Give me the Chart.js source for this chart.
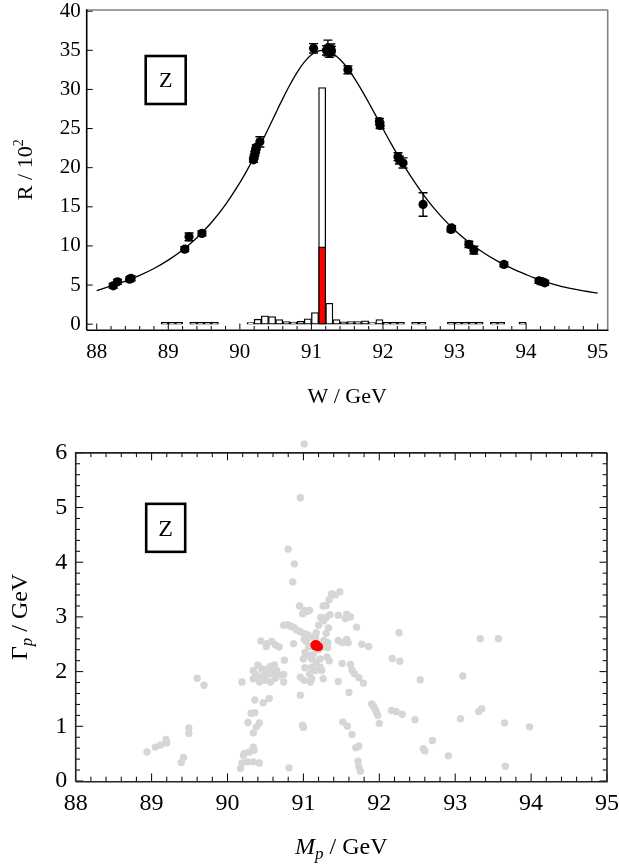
<!DOCTYPE html>
<html><head><meta charset="utf-8">
<script src="https://cdn.jsdelivr.net/npm/chart.js@4.4.1/dist/chart.umd.min.js"></script>
<style>
html,body{margin:0;padding:0;background:#fff;}
#wrap{position:relative;width:619px;height:867px;overflow:hidden;}
canvas{position:absolute;left:0;}
</style></head><body>
<div id="wrap">
<canvas id="c1" width="619" height="430" style="top:0;width:619px;height:430px"></canvas>
<canvas id="c2" width="619" height="437" style="top:430px;width:619px;height:437px"></canvas>
</div>
<script>
const FONT = "'Liberation Serif','Times New Roman',serif";

// ---------- Top panel: R vs W ----------
const topXTicks = [88, 89, 90, 91, 92, 93, 94, 95];
const topYTicks = [0, 5, 10, 15, 20, 25, 30, 35, 40];

// fitted line shape
const curveW = [88.0,88.2,88.4,88.6,88.8,89.0,89.2,89.4,89.6,89.8,90.0,90.1,90.2,90.3,90.4,90.5,90.6,90.7,90.8,90.9,91.0,91.1,91.15,91.2,91.3,91.4,91.5,91.6,91.7,91.8,91.9,92.0,92.1,92.2,92.3,92.4,92.6,92.8,93.0,93.2,93.4,93.6,93.8,94.0,94.2,94.4,94.6,94.8,95.0];
const curveR = [4.28,4.88,5.50,6.24,7.12,8.19,9.48,11.05,12.96,15.28,18.08,19.66,21.36,23.16,25.03,26.94,28.82,30.60,32.19,33.50,34.43,34.92,35.0,34.95,34.57,33.82,32.77,31.45,29.95,28.33,26.65,24.96,23.29,21.69,20.16,18.72,16.12,13.91,12.04,10.48,9.16,8.06,7.13,6.34,5.62,5.06,4.60,4.25,3.98];

// measured points with errors
const ptW   = [88.23,88.29,88.46,88.48,89.23,89.29,89.47,90.19,90.20,90.21,90.22,90.23,90.28,91.03,91.21,91.23,91.25,91.27,91.28,91.51,91.95,91.96,92.21,92.23,92.28,92.56,92.95,92.96,93.20,93.27,93.69,94.18,94.22,94.26];
const ptR   = [4.90,5.41,5.75,5.85,9.59,11.16,11.6,21.0,21.4,21.8,22.2,22.6,23.3,35.25,35.0,35.3,34.7,35.2,34.9,32.5,25.9,25.4,21.4,20.97,20.6,15.3,12.1,12.3,10.2,9.46,7.63,5.54,5.45,5.28];
const ptErr = [0.3,0.3,0.3,0.3,0.3,0.5,0.3,0.3,0.3,0.3,0.3,0.3,0.65,0.6,0.6,1.0,0.6,0.6,0.6,0.5,0.4,0.4,0.5,0.5,0.65,1.5,0.3,0.3,0.4,0.5,0.3,0.3,0.3,0.3];

// histogram (bin centres, 0.1 GeV bins)
const histW = [88.95,89.05,89.15,89.35,89.45,89.55,89.65,90.15,90.25,90.35,90.45,90.55,90.65,90.75,90.85,90.95,91.05,91.15,91.25,91.35,91.45,91.55,91.65,91.75,91.85,91.95,92.05,92.15,92.25,92.45,92.55,92.95,93.05,93.15,93.25,93.35,93.55,93.65,93.95];
const histH = [0.24,0.24,0.24,0.24,0.24,0.24,0.24,0.21,0.64,1.06,0.98,0.60,0.34,0.26,0.38,0.68,1.49,30.25,2.68,0.60,0.30,0.34,0.34,0.43,0.21,0.60,0.24,0.24,0.24,0.24,0.24,0.24,0.24,0.24,0.24,0.24,0.24,0.24,0.24];
const redBarW = [91.15];
const redBarH = [9.9];

// ---------- Bottom panel: Gamma_p vs M_p ----------
const botXTicks = [88, 89, 90, 91, 92, 93, 94, 95];
const botYTicks = [0, 1, 2, 3, 4, 5, 6];
const grayM = [88.94,89.05,89.12,89.19,89.20,89.39,89.42,89.49,89.49,89.60,89.69,
90.17,90.19,90.21,90.23,90.26,90.29,90.34,90.35,90.34,90.42,90.27,90.42,90.38,90.34,90.31,90.36,90.36,90.47,90.55,
90.19,90.34,90.40,90.34,90.40,90.44,90.48,90.52,90.57,90.62,90.49,90.55,90.60,90.65,90.42,90.50,90.57,90.68,90.74,90.74,90.37,90.45,90.63,90.75,
90.51,90.44,90.52,90.58,90.63,90.68,90.87,90.74,90.79,90.83,90.87,90.91,90.96,91.01,91.06,91.12,91.16,90.95,91.01,91.08,90.99,91.05,90.86,90.88,90.80,90.96,91.01,
91.01,91.04,91.02,91.07,91.13,91.00,91.11,91.17,91.22,91.31,91.34,91.02,91.11,91.16,91.08,91.22,91.24,90.96,91.01,91.11,91.09,91.26,91.20,91.25,91.07,91.32,91.32,
91.17,91.20,91.23,91.27,91.30,91.35,91.26,91.30,91.34,91.37,91.42,91.48,91.27,91.30,91.33,
91.46,91.55,91.57,91.62,91.70,91.51,91.57,91.59,91.77,91.86,91.46,
91.51,91.62,91.64,91.67,91.73,91.79,91.46,91.60,
91.90,91.92,91.94,91.96,91.98,92.00,92.16,92.22,92.30,92.47,92.54,92.17,92.27,92.26,
91.52,91.58,91.64,91.69,91.73,91.72,91.73,91.75,90.99,91.00,90.96,90.81,
92.58,92.60,92.70,92.91,93.07,93.31,93.35,93.10,93.33,93.57,93.65,93.98,93.66];
const grayG = [0.53,0.62,0.66,0.76,0.70,0.34,0.43,0.97,0.87,1.88,1.75,
0.23,0.33,0.47,0.51,0.35,0.53,0.62,0.56,0.35,0.33,1.07,1.06,0.99,0.88,1.24,1.25,1.48,1.43,1.51,
1.81,2.02,2.12,1.87,1.87,1.90,1.99,2.05,2.10,2.12,1.93,1.96,1.99,2.02,1.81,1.84,1.81,1.93,1.81,1.95,1.95,2.05,1.88,2.21,
2.46,2.56,2.51,2.55,2.49,2.45,2.51,2.85,2.86,2.83,2.81,2.76,2.73,2.70,2.67,2.63,2.61,3.20,3.12,3.12,3.06,3.10,3.64,3.97,4.24,5.18,6.16,
2.59,2.55,2.35,2.29,2.32,2.23,2.23,2.17,2.23,2.27,2.20,2.07,2.08,2.02,1.96,2.08,2.02,1.90,1.84,1.87,1.81,1.87,2.40,2.45,2.45,2.53,2.44,
2.71,2.85,2.99,2.93,2.99,3.04,3.20,3.21,3.32,3.42,3.40,3.46,2.57,2.70,2.80,
3.03,2.97,3.05,3.00,2.81,2.53,2.59,2.53,2.50,2.46,2.57,
2.15,2.13,2.03,1.96,1.89,1.79,1.82,1.62,
1.41,1.37,1.32,1.26,1.20,1.05,1.29,1.27,1.22,1.12,1.85,2.24,2.19,2.71,
1.08,1.00,0.85,0.61,0.64,0.36,0.26,0.18,1.02,0.98,1.57,0.24,
0.59,0.55,0.74,0.46,1.14,1.27,1.32,1.92,2.60,2.60,1.06,0.99,0.27];
const redM = [91.14,91.16,91.18,91.20,91.17,91.19,91.15,91.21];
const redG = [2.49,2.51,2.50,2.47,2.45,2.44,2.46,2.45];

// ---------- helpers ----------
function drawRich(ctx, segs, cx, cy, rot) {
  ctx.save();
  ctx.translate(cx, cy);
  if (rot) ctx.rotate(rot);
  ctx.textBaseline = 'alphabetic';
  ctx.textAlign = 'left';
  ctx.fillStyle = '#000';
  let total = 0;
  for (const s of segs) {
    ctx.font = (s.style || 'normal') + ' ' + s.size + 'px ' + FONT;
    s.w = ctx.measureText(s.t).width; total += s.w;
  }
  let x = -total / 2;
  const base = segs[0].size * 0.33;
  for (const s of segs) {
    ctx.font = (s.style || 'normal') + ' ' + s.size + 'px ' + FONT;
    ctx.fillText(s.t, x, base + (s.dy || 0));
    x += s.w;
  }
  ctx.restore();
}

const decorPlugin = {
  id: 'decor',
  afterDatasetsDraw(chart, args, o) {
    const {ctx, chartArea: ca, scales: {x, y}} = chart;
    const a = {left: ca.left, right: ca.right, bottom: ca.bottom,
               top: o.frameTop != null ? y.getPixelForValue(o.frameTop) : ca.top};
    ctx.save();
    // error bars
    if (o.err) {
      ctx.strokeStyle = '#000'; ctx.lineWidth = 1.4;
      o.err.xs.forEach((xv, i) => {
        const px = x.getPixelForValue(xv);
        const y1 = y.getPixelForValue(o.err.ys[i] - o.err.es[i]);
        const y2 = y.getPixelForValue(o.err.ys[i] + o.err.es[i]);
        ctx.beginPath();
        ctx.moveTo(px, y1); ctx.lineTo(px, y2);
        ctx.moveTo(px - 4.5, y1); ctx.lineTo(px + 4.5, y1);
        ctx.moveTo(px - 4.5, y2); ctx.lineTo(px + 4.5, y2);
        ctx.stroke();
      });
    }
    // ticks
    ctx.strokeStyle = '#000'; ctx.lineWidth = 1;
    const seg = (x0, y0, x1, y1) => { ctx.beginPath(); ctx.moveTo(x0, y0); ctx.lineTo(x1, y1); ctx.stroke(); };
    const xm = o.xMajor, ym = o.yMajor;
    for (const v of xm) {
      const p = x.getPixelForValue(v);
      seg(p, a.bottom, p, a.bottom - o.maj);
      if (o.all) seg(p, a.top, p, a.top + o.maj);
    }
    for (const v of ym) {
      const p = y.getPixelForValue(v);
      seg(a.left, p, a.left + o.maj, p);
      if (o.all) seg(a.right, p, a.right - o.maj, p);
    }
    if (o.xMinor) {
      const n = Math.round((xm[xm.length - 1] - xm[0]) / o.xMinor);
      for (let k = 0; k <= n; k++) {
        if (k % Math.round(1 / o.xMinor) === 0) continue;
        const p = x.getPixelForValue(xm[0] + k * o.xMinor);
        seg(p, a.bottom, p, a.bottom - o.min);
        if (o.all) seg(p, a.top, p, a.top + o.min);
      }
    }
    if (o.yMinor) {
      const n = Math.round((ym[ym.length - 1] - ym[0]) / o.yMinor);
      for (let k = 0; k <= n; k++) {
        if (k % Math.round(1 / o.yMinor) === 0) continue;
        const p = y.getPixelForValue(ym[0] + k * o.yMinor);
        seg(a.left, p, a.left + o.min, p);
        if (o.all) seg(a.right, p, a.right - o.min, p);
      }
    }
    // frame
    ctx.lineWidth = 1.6;
    ctx.strokeStyle = o.topRightColor;
    seg(a.left, a.top, a.right, a.top);
    seg(a.right, a.top, a.right, a.bottom);
    ctx.strokeStyle = o.frameColor;
    seg(a.left, a.bottom + 0.8, a.right + 0.8, a.bottom + 0.8);
    seg(a.left, a.top - 0.8, a.left, a.bottom + 0.8);
    // Z box
    const b = o.box;
    ctx.lineWidth = 2.6; ctx.strokeStyle = '#000';
    ctx.strokeRect(a.left + b.dx, a.top + b.dy, b.w, b.h);
    drawRich(ctx, [{t: 'Z', size: b.fs}], a.left + b.dx + b.w / 2, a.top + b.dy + b.h / 2);
    // axis titles
    const cxm = (a.left + a.right) / 2, cym = (a.top + a.bottom) / 2;
    drawRich(ctx, o.xTitle, cxm, o.xTitleY);
    drawRich(ctx, o.yTitle, o.yTitleX, cym, -Math.PI / 2);
    ctx.restore();
  }
};

function noPad(s) { s.paddingTop = 0; s.paddingBottom = 0; s.paddingLeft = 0; s.paddingRight = 0; }
function mkScaleX(min, max, ticksArr, size, pad, h) {
  return {
    type: 'linear', min, max, offset: false,
    grid: {display: false, drawTicks: false}, border: {display: false},
    afterBuildTicks: s => { s.ticks = ticksArr.map(v => ({value: v})); },
    ticks: {font: {family: FONT, size}, color: '#000', padding: pad, maxRotation: 0, autoSkip: false, callback: v => String(v)},
    afterFit: s => { s.height = h; noPad(s); }
  };
}
function mkScaleY(min, max, ticksArr, size, pad, w) {
  return {
    type: 'linear', min, max,
    grid: {display: false, drawTicks: false}, border: {display: false},
    afterBuildTicks: s => { s.ticks = ticksArr.map(v => ({value: v})); },
    ticks: {font: {family: FONT, size}, color: '#000', padding: pad, autoSkip: false, callback: v => String(v)},
    afterFit: s => { s.width = w; noPad(s); }
  };
}

// ---------- Top chart ----------
new Chart(document.getElementById('c1'), {
  type: 'bar',
  data: {
    datasets: [
      {type: 'scatter', data: ptW.map((w, i) => ({x: w, y: ptR[i]})), backgroundColor: '#000', borderWidth: 0, pointRadius: 4.6, pointHoverRadius: 4.6, order: 0},
      {type: 'bar', data: redBarW.map((w, i) => ({x: w, y: redBarH[i]})), backgroundColor: '#ff0000', borderColor: '#000', borderWidth: 1.3, borderSkipped: false, grouped: false, barPercentage: 1, categoryPercentage: 1, order: 1},
      {type: 'bar', data: histW.map((w, i) => ({x: w, y: histH[i]})), backgroundColor: '#ffffff', borderColor: '#000', borderWidth: 1.3, borderSkipped: false, grouped: false, barPercentage: 1, categoryPercentage: 1, order: 2},
      {type: 'line', data: curveW.map((w, i) => ({x: w, y: curveR[i]})), borderColor: '#000', borderWidth: 1.3, pointRadius: 0, cubicInterpolationMode: 'monotone', fill: false, order: 3}
    ]
  },
  options: {
    responsive: false, animation: false, events: [],
    layout: {padding: {top: 10, right: 11.3, left: 0, bottom: 0}},
    plugins: {
      legend: {display: false}, tooltip: {enabled: false},
      decor: {
        err: {xs: ptW, ys: ptR, es: ptErr}, frameTop: null,
        xMajor: topXTicks, yMajor: topYTicks, xMinor: 0.2, yMinor: null,
        maj: 6, min: 3.5, all: false,
        topRightColor: '#808080', frameColor: '#000',
        box: {dx: 59, dy: 46, w: 40, h: 48, fs: 22},
        xTitle: [{t: 'W / GeV', size: 22}], xTitleY: 396,
        yTitle: [{t: 'R / 10', size: 22}, {t: '2', size: 14, dy: -9}], yTitleX: 25
      }
    },
    scales: {
      x: mkScaleX(87.86, 95.14, topXTicks, 21, 10, 100.5),
      y: mkScaleY(-0.68, 40.15, topYTicks, 21, 6, 86.7)
    }
  },
  plugins: [decorPlugin]
});

// ---------- Bottom chart ----------
new Chart(document.getElementById('c2'), {
  type: 'scatter',
  data: {
    datasets: [
      {data: redM.map((m, i) => ({x: m, y: redG[i]})), backgroundColor: '#ff0000', borderWidth: 0, pointRadius: 3.7, pointHoverRadius: 3.7, clip: false, order: 0},
      {data: grayM.map((m, i) => ({x: m, y: grayG[i]})), backgroundColor: 'rgb(214,214,214)', borderWidth: 0, pointRadius: 3.7, pointHoverRadius: 3.7, clip: false, order: 1}
    ]
  },
  options: {
    responsive: false, animation: false, events: [],
    layout: {padding: {top: 1.75, right: 12, left: 0, bottom: 0}},
    plugins: {
      legend: {display: false}, tooltip: {enabled: false},
      decor: {
        err: null, frameTop: 6,
        xMajor: botXTicks, yMajor: botYTicks, xMinor: 0.2, yMinor: 0.2,
        maj: 7.5, min: 4.3, all: true,
        topRightColor: '#222', frameColor: '#222',
        box: {dx: 70.5, dy: 51, w: 39, h: 48, fs: 24},
        xTitle: [{t: 'M', size: 24, style: 'italic'}, {t: 'p', size: 17, style: 'italic', dy: 5}, {t: ' / GeV', size: 24}], xTitleY: 416.5,
        yTitle: [{t: 'Γ', size: 24}, {t: 'p', size: 17, style: 'italic', dy: 5}, {t: ' / GeV', size: 24}], yTitleX: 19
      }
    },
    scales: {
      x: mkScaleX(88, 95, botXTicks, 24, 8, 86),
      y: mkScaleY(0, 6.35, botYTicks, 24, 8.5, 75.7)
    }
  },
  plugins: [decorPlugin]
});
</script>
</body></html>
